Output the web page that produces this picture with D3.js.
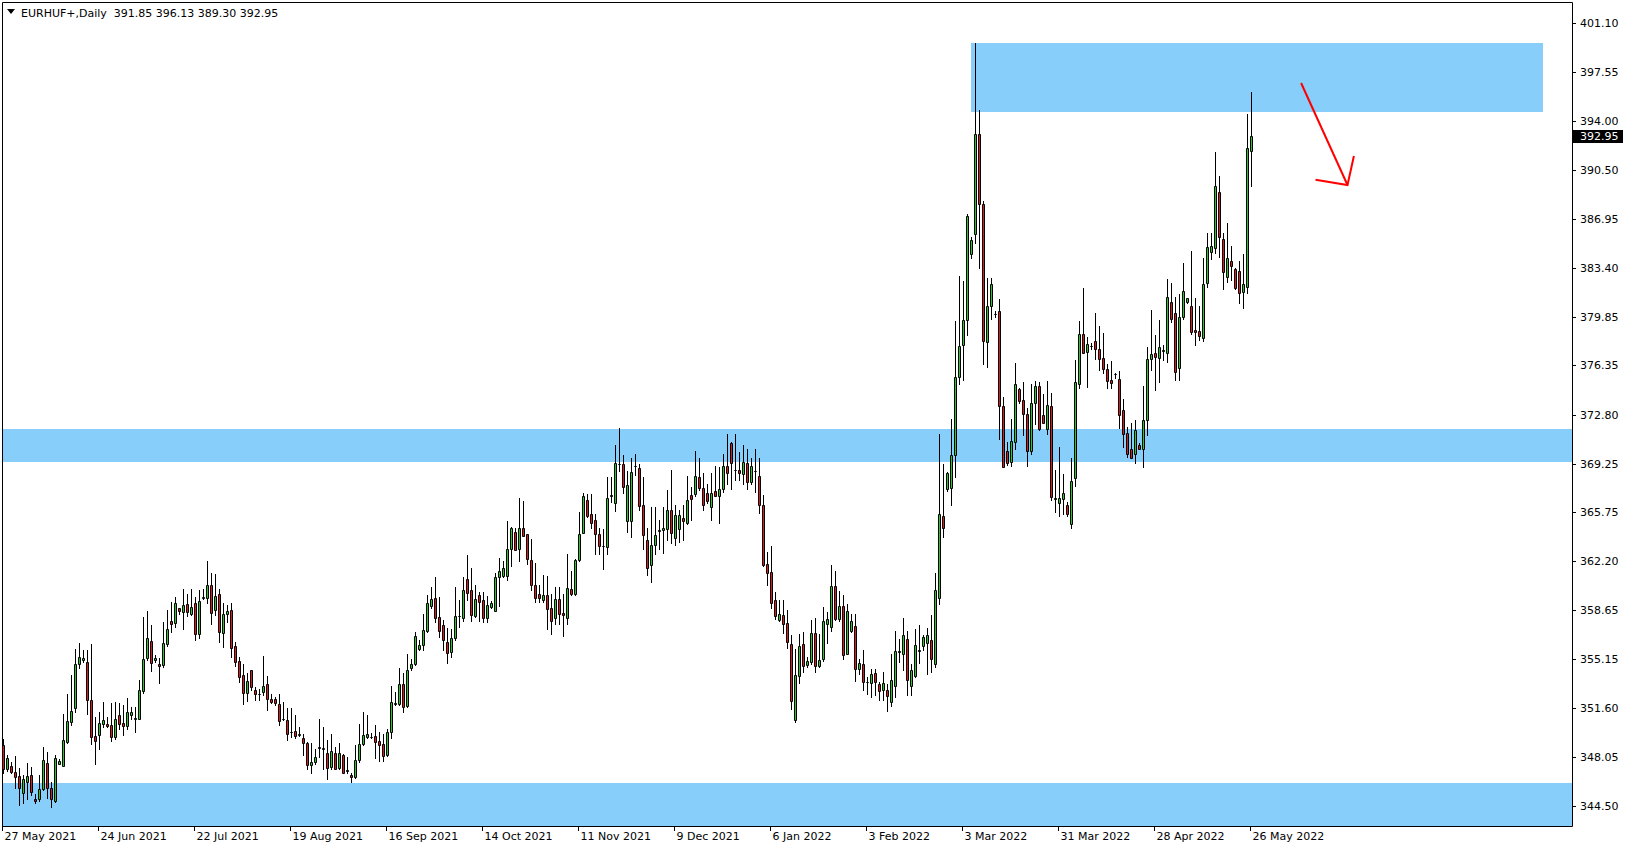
<!DOCTYPE html>
<html>
<head>
<meta charset="utf-8">
<script src="https://cdn.jsdelivr.net/npm/d3@7"></script>
<style>
  html, body { margin: 0; padding: 0; background: #fff; }
  svg { display: block; }
  text { font-family: "DejaVu Sans", sans-serif; font-size: 11px; fill: #000; }
</style>
</head>
<body>
<svg width="1629" height="850"></svg>
<script>
// EURHUF+ daily candles, one row per bar: open, high, low, close
var bars = [
  [348.89,349.33,346.85,347.21],[347.14,348.17,347.04,348.00],[347.38,347.69,346.89,346.99],[346.94,348.10,345.83,346.60],
  [346.65,347.28,344.60,345.81],[345.47,346.73,344.75,346.44],[346.24,347.62,345.01,346.70],[346.73,347.33,345.33,345.52],
  [345.01,345.40,344.72,344.89],[345.01,346.73,344.87,345.76],[345.76,348.77,345.64,347.86],[347.64,348.41,345.06,345.83],
  [345.83,346.22,344.44,344.97],[344.87,348.17,344.80,348.00],[347.57,347.93,347.52,347.76],[347.40,351.18,347.40,349.26],
  [349.14,352.63,349.06,350.61],[350.58,353.96,350.34,351.40],[351.62,355.88,351.30,354.80],[354.77,356.29,354.44,355.30],
  [355.06,355.76,354.92,355.23],[354.90,355.81,351.14,352.15],[352.15,356.20,348.97,349.50],[349.55,350.94,347.52,349.21],
  [349.64,351.30,348.65,350.53],[350.41,352.03,350.22,350.75],[350.41,350.94,350.22,350.29],[350.36,351.91,349.18,349.50],
  [349.50,352.03,349.33,350.77],[351.06,351.91,350.10,350.46],[350.51,351.79,349.66,350.29],[350.29,352.34,350.10,351.28],
  [351.09,351.67,350.77,351.28],[350.82,351.67,349.86,350.87],[350.80,353.59,350.80,352.87],[352.82,358.17,352.68,355.11],
  [355.21,358.58,355.04,356.61],[356.41,357.57,354.24,354.87],[355.02,355.40,354.92,355.18],[354.73,355.21,353.40,354.65],
  [354.70,357.81,354.56,356.27],[356.24,358.70,356.05,357.33],[357.86,359.26,357.09,357.67],[357.74,359.62,357.45,359.14],
  [358.78,358.82,358.41,358.61],[358.53,360.15,357.28,359.06],[359.09,359.86,358.22,358.49],[358.41,360.15,358.29,358.85],
  [359.14,359.62,356.53,356.90],[356.90,360.10,356.68,359.31],[359.52,360.15,359.43,359.58],[359.57,362.20,359.14,360.46],
  [360.46,361.31,357.69,358.46],[358.66,361.26,358.29,359.67],[359.81,360.22,356.37,357.09],[356.97,359.14,356.00,358.37],
  [358.41,359.06,357.81,358.58],[358.66,359.14,355.28,355.93],[356.05,356.37,354.61,354.92],[354.97,355.28,353.47,353.84],
  [353.96,354.80,351.84,352.68],[352.70,354.12,352.08,353.52],[354.32,354.32,352.87,353.11],[352.87,353.11,352.15,352.56],
  [352.60,352.99,352.15,352.63],[352.75,355.33,352.51,353.16],[353.35,353.88,351.47,352.20],[352.27,352.63,351.91,352.03],
  [352.22,352.39,351.79,351.96],[351.86,352.56,350.39,350.65],[350.77,352.03,350.70,350.80],[350.75,351.55,349.26,349.74],
  [349.86,351.55,349.50,349.88],[349.91,351.06,349.42,349.57],[349.66,350.22,349.57,349.72],[349.38,349.74,348.17,349.06],
  [349.09,349.14,347.21,347.47],[347.47,349.02,346.85,347.71],[347.69,348.65,347.57,348.07],[348.72,350.82,348.05,348.77],
  [348.67,350.22,347.16,348.65],[348.36,349.26,346.44,347.28],[347.33,349.69,347.21,348.46],[348.34,348.77,347.14,347.14],
  [347.28,349.02,347.16,348.32],[348.17,348.24,346.85,346.85],[347.06,348.05,346.85,347.11],[346.77,346.85,346.24,346.60],
  [346.60,348.89,346.53,347.81],[347.81,350.41,347.69,348.97],[348.97,351.26,348.89,349.62],[349.50,351.06,349.45,349.69],
  [349.52,349.81,349.42,349.50],[349.55,350.34,347.98,349.14],[349.23,349.86,347.74,348.89],[348.97,349.74,347.76,348.12],
  [348.22,350.10,348.15,349.88],[349.86,353.16,349.38,352.03],[351.89,352.75,351.79,351.91],[351.86,354.44,351.79,353.35],
  [353.35,354.08,351.30,351.67],[351.74,355.47,351.67,354.32],[354.49,355.16,354.32,354.73],[354.73,357.09,354.68,356.78],
  [355.86,356.49,355.81,356.12],[356.17,358.37,355.76,357.21],[357.16,359.74,357.09,359.21],[358.97,360.34,358.82,359.45],
  [359.57,361.07,357.81,358.10],[358.15,359.62,356.73,357.16],[357.57,357.93,355.76,356.53],[356.32,357.40,354.87,355.57],
  [355.64,357.33,355.28,356.61],[356.61,360.34,356.53,358.27],[358.22,359.38,357.45,358.27],[358.10,361.07,357.88,360.10],
  [360.90,362.63,359.38,359.93],[360.10,361.67,357.88,358.34],[358.25,360.46,358.17,359.43],[359.74,359.98,357.86,359.26],
  [359.38,359.98,357.81,358.10],[358.10,359.67,357.81,359.02],[358.90,359.33,358.82,359.14],[358.61,361.31,358.61,361.02],
  [361.02,362.46,358.97,361.47],[361.16,362.22,361.07,361.67],[361.14,365.09,360.82,363.11],[363.11,364.68,361.84,364.56],
  [364.32,364.56,362.99,363.04],[363.11,366.78,362.22,364.56],[364.56,366.54,364.01,364.01],[364.15,364.15,361.98,362.32],
  [362.27,363.79,360.10,360.46],[360.46,362.10,359.26,359.57],[359.79,360.46,359.26,359.57],[359.38,361.19,359.26,359.74],
  [359.74,361.11,357.33,358.75],[358.78,359.86,356.90,357.88],[358.12,360.34,357.69,359.43],[359.43,360.34,357.69,358.41],
  [358.46,359.86,356.80,358.34],[358.12,362.70,357.69,360.29],[360.15,361.47,359.74,359.79],[359.79,362.32,359.74,362.27],
  [362.27,365.76,362.22,364.13],[364.27,367.09,364.20,366.90],[366.61,367.04,365.40,365.45],[365.64,367.02,364.61,364.99],
  [365.16,365.64,362.70,364.13],[364.13,364.56,362.70,363.31],[363.26,364.49,361.60,363.31],[363.19,368.27,362.75,366.73],
  [366.92,368.30,366.49,366.95],[366.37,370.58,365.84,369.26],[369.23,371.79,368.72,369.20],[369.19,369.86,367.09,367.57],
  [365.11,368.70,364.32,367.69],[365.11,369.62,363.92,368.63],[369.07,369.93,368.40,369.11],[368.92,369.21,365.93,366.20],
  [366.24,368.25,363.11,364.12],[363.76,364.56,361.23,361.71],[361.95,366.12,360.70,363.36],[363.36,366.12,362.75,364.08],
  [364.41,365.16,363.11,364.46],[364.44,366.12,362.82,364.61],[364.49,367.33,363.72,365.89],[365.89,368.77,363.48,364.20],
  [363.84,366.25,363.36,365.52],[364.49,365.89,363.60,365.52],[365.35,366.25,363.72,365.09],[364.99,368.34,364.92,366.61],
  [366.97,367.57,365.16,366.66],[367.04,370.15,366.90,368.34],[368.25,369.62,367.33,367.52],[367.52,368.54,365.93,366.29],
  [367.09,367.81,366.37,366.54],[366.08,368.58,365.16,367.16],[367.26,369.06,366.90,366.92],[366.92,369.01,364.97,367.38],
  [367.38,369.98,367.21,369.06],[369.06,371.38,367.81,368.54],[370.71,370.78,367.45,369.33],[368.78,371.38,368.05,368.82],
  [368.77,370.08,368.10,368.58],[368.48,370.58,367.74,369.35],[369.26,370.34,367.38,367.93],[367.93,369.69,367.74,369.11],
  [368.70,370.27,367.21,368.74],[368.39,369.62,365.69,366.24],[366.24,366.97,361.84,361.91],[361.98,362.87,360.46,361.31],
  [361.38,363.28,358.78,359.21],[359.38,359.98,358.05,358.25],[357.93,359.38,357.86,358.41],[358.33,359.37,357.01,357.68],
  [357.76,358.65,355.92,356.36],[356.24,356.89,351.49,352.09],[350.74,355.88,350.57,353.95],[353.90,356.96,353.39,356.09],
  [356.24,357.08,354.19,354.62],[354.72,355.27,354.55,355.01],[354.91,357.92,354.79,357.03],[357.03,358.12,354.19,354.62],
  [354.62,356.91,354.55,355.08],[355.13,358.89,354.96,357.85],[357.63,358.53,356.29,357.99],[357.44,361.90,357.13,360.38],
  [360.38,361.47,357.92,358.02],[358.02,360.04,357.88,358.94],[358.94,359.73,355.10,355.39],[355.51,359.08,355.47,358.57],
  [357.13,358.41,357.08,357.85],[357.49,358.41,353.51,354.43],[354.43,355.15,354.07,354.86],[354.74,355.76,352.91,353.47],
  [353.45,353.83,352.57,353.49],[353.42,354.43,352.38,354.02],[354.14,354.43,352.55,353.47],[353.35,353.47,352.19,352.81],
  [352.91,354.19,352.19,353.42],[352.91,353.35,351.37,352.45],[352.02,355.51,351.71,353.63],[353.18,357.13,352.38,355.73],
  [355.63,356.60,354.91,355.73],[355.49,358.09,354.31,356.89],[356.55,357.13,352.50,353.63],[353.20,354.79,352.50,354.31],
  [353.90,357.32,353.83,356.16],[355.70,357.56,354.84,355.75],[356.04,356.89,355.76,356.72],[356.29,357.39,354.02,356.89],
  [356.48,358.29,354.19,355.15],[354.79,361.35,354.55,360.14],[359.56,371.36,359.08,365.60],[365.45,369.21,363.91,364.56],
  [367.40,368.66,367.28,368.54],[367.52,372.47,366.29,369.84],[369.84,379.55,368.25,375.48],[375.53,382.80,375.04,377.74],
  [377.82,382.47,375.33,379.62],[379.62,387.29,378.54,387.14],[384.37,385.65,384.08,385.38],[385.82,399.63,385.17,393.05],
  [393.05,394.81,383.36,388.01],[388.01,388.23,376.42,378.13],[378.01,382.64,376.25,380.63],[380.63,382.64,379.67,382.23],
  [380.03,380.30,379.86,380.08],[380.27,381.14,371.04,373.43],[373.43,374.08,368.97,368.97],[370.15,370.83,369.14,369.26],
  [369.38,372.51,369.07,370.87],[370.83,376.49,370.27,375.04],[374.61,374.68,373.60,373.79],[373.84,375.12,371.31,372.83],
  [372.83,373.24,369.09,370.17],[370.17,375.04,369.93,373.60],[373.60,375.21,372.10,374.85],[374.85,375.16,371.67,371.74],
  [372.80,374.27,372.15,372.22],[371.72,375.21,371.38,373.48],[373.40,374.39,366.61,366.85],[366.80,368.78,365.72,366.66],
  [366.37,370.42,365.48,366.80],[366.66,368.49,365.64,367.16],[366.29,366.44,365.48,365.64],[364.85,369.62,364.63,367.98],
  [368.22,376.73,367.64,375.12],[374.97,379.55,374.73,378.61],[378.61,381.91,377.26,377.28],[377.33,378.37,374.80,377.93],
  [377.74,377.98,377.57,377.78],[378.13,380.15,376.80,377.50],[377.50,379.19,376.01,376.80],[376.92,378.66,375.77,376.06],
  [376.06,376.42,374.73,375.24],[375.28,376.66,374.73,375.09],[375.74,375.77,375.45,375.72],[375.36,375.93,371.84,372.80],
  [373.16,373.89,370.46,371.36],[371.43,371.90,369.74,369.98],[370.30,372.15,369.62,369.67],[369.98,372.39,369.26,371.67],
  [370.56,370.71,370.30,370.34],[370.34,374.85,368.97,372.39],[372.39,377.70,371.31,376.78],[376.78,380.35,376.01,377.17],
  [377.22,378.54,374.56,376.93],[376.86,379.63,375.16,377.65],[377.39,377.82,376.74,377.43],[377.22,382.57,376.62,381.27],
  [380.91,382.33,379.51,379.70],[380.11,381.31,375.29,375.84],[376.13,381.51,375.29,379.82],[379.82,383.77,379.70,381.75],
  [380.91,381.21,380.89,381.19],[380.64,384.62,378.62,378.78],[378.91,381.19,377.82,378.78],[378.83,380.64,378.18,378.50],
  [378.30,384.09,378.13,382.23],[382.28,385.89,381.99,384.88],[384.52,385.89,384.01,384.98],[384.81,391.80,384.45,389.32],
  [388.86,390.04,384.21,385.61],[385.46,385.89,381.85,383.12],[382.76,386.62,382.40,384.09],[383.89,384.98,382.52,383.56],
  [383.29,383.36,381.85,381.92],[383.17,383.89,380.83,381.60],[381.68,384.40,380.47,382.23],[381.99,394.52,381.56,392.04],
  [391.85,396.13,389.30,392.95]
];

var priceTicks = [401.10, 397.55, 394.00, 390.50, 386.95, 383.40, 379.85, 376.35, 372.80,
  369.25, 365.75, 362.20, 358.65, 355.15, 351.60, 348.05, 344.50];

var dateLabels = ["27 May 2021", "24 Jun 2021", "22 Jul 2021", "19 Aug 2021", "16 Sep 2021",
  "14 Oct 2021", "11 Nov 2021", "9 Dec 2021", "6 Jan 2022", "3 Feb 2022", "3 Mar 2022",
  "31 Mar 2022", "28 Apr 2022", "26 May 2022"];
var dateBars = [0, 24, 48, 72, 96, 120, 144, 168, 192, 216, 240, 264, 288, 312];

// supply / demand boxes: bar range (null = whole chart) and price band
var zones = [
  { from: 241.9, to: 384.9, hi: 399.67, lo: 394.69 },
  { from: null, to: null, hi: 371.74, lo: 369.38 },
  { from: null, to: null, hi: 346.17, lo: 342.0 }
];

// hand drawn arrow, in bar / price units
var arrowShaft = [[324.4, 396.76], [336, 389.39]];
var arrowHead = [[328, 389.77], [336, 389.39], [337.6, 391.49]];

var symbol = "EURHUF+,Daily";
var last = bars[bars.length - 1];

var svg = d3.select("svg"),
  plotL = 2,
  plotR = 1572,
  plotT = 2,
  plotB = 826;

var x = d3.scaleLinear().domain([0, 312]).range([3.5, 1251.5]);
var y = d3.scaleLinear().domain([344.50, 401.10]).range([806, 23]);

svg.append("rect").attr("width", 1629).attr("height", 850).attr("fill", "#fff");

svg.append("clipPath").attr("id", "plot")
  .append("rect")
  .attr("x", plotL).attr("y", plotT)
  .attr("width", plotR - plotL).attr("height", plotB - plotT);

var g = svg.append("g").attr("clip-path", "url(#plot)");

g.selectAll("rect.zone")
  .data(zones)
  .enter()
  .append("rect")
  .attr("class", "zone")
  .attr("x", function (d) { return d.from === null ? plotL : Math.round(x(d.from)); })
  .attr("width", function (d) {
    return d.from === null ? plotR - plotL : Math.round(x(d.to)) - Math.round(x(d.from));
  })
  .attr("y", function (d) { return Math.round(y(d.hi)); })
  .attr("height", function (d) { return Math.round(y(d.lo)) - Math.round(y(d.hi)); })
  .attr("fill", "#87cefa");

var candle = g.selectAll("g.candle")
  .data(bars)
  .enter()
  .append("g")
  .attr("class", "candle");

// wicks
candle.append("line")
  .attr("x1", function (d, i) { return x(i); })
  .attr("x2", function (d, i) { return x(i); })
  .attr("y1", function (d) { return Math.round(y(d[1])); })
  .attr("y2", function (d) { return Math.round(y(d[2])) + 1; })
  .attr("stroke", "#000")
  .attr("stroke-width", 1);

// bodies, drawn as paths so a doji still shows as a flat line
candle.append("path")
  .attr("d", function (d, i) {
    var cx = x(i),
      y0 = Math.round(y(Math.max(d[0], d[3]))) + 0.5,
      y1 = Math.round(y(Math.min(d[0], d[3]))) + 0.5;
    return "M" + (cx - 1) + "," + y0 + "H" + (cx + 1) + "V" + y1 + "H" + (cx - 1) + "Z";
  })
  .attr("fill", function (d) { return d[3] >= d[0] ? "#22cc22" : "#dd1a1a"; })
  .attr("stroke", "#000")
  .attr("stroke-width", 1);

var line = d3.line()
  .x(function (d) { return x(d[0]); })
  .y(function (d) { return y(d[1]); });

g.append("path").attr("d", line(arrowShaft))
  .attr("fill", "none").attr("stroke", "#ff0000").attr("stroke-width", 2);
g.append("path").attr("d", line(arrowHead))
  .attr("fill", "none").attr("stroke", "#ff0000").attr("stroke-width", 2)
  .attr("stroke-linejoin", "miter");

// frame
svg.append("path")
  .attr("d", "M" + (plotL + 0.5) + "," + (plotB + 0.5) + "V" + (plotT + 0.5) + "H" + (plotR + 0.5) + "V" + (plotB + 0.5) + "H" + (plotL + 0.5))
  .attr("fill", "none")
  .attr("stroke", "#000");

// price scale
var yAxis = svg.append("g");
yAxis.selectAll("line")
  .data(priceTicks)
  .enter()
  .append("line")
  .attr("x1", plotR).attr("x2", plotR + 4)
  .attr("y1", function (d) { return Math.round(y(d)) + 0.5; })
  .attr("y2", function (d) { return Math.round(y(d)) + 0.5; })
  .attr("stroke", "#000");
yAxis.selectAll("text")
  .data(priceTicks)
  .enter()
  .append("text")
  .attr("x", plotR + 8)
  .attr("y", function (d) { return y(d) + 4; })
  .text(function (d) { return d.toFixed(2); });

var cy = Math.round(y(last[3]));
svg.append("rect")
  .attr("x", plotR + 1).attr("y", cy - 6)
  .attr("width", 50).attr("height", 13)
  .attr("fill", "#000");
svg.append("text")
  .attr("x", plotR + 8).attr("y", cy + 4)
  .style("fill", "#fff")
  .text(last[3].toFixed(2));

// time scale
var xAxis = svg.append("g");
xAxis.selectAll("line")
  .data(dateBars)
  .enter()
  .append("line")
  .attr("x1", function (d) { return x(d) - 1; })
  .attr("x2", function (d) { return x(d) - 1; })
  .attr("y1", plotB).attr("y2", plotB + 5)
  .attr("stroke", "#000");
xAxis.selectAll("text")
  .data(dateBars)
  .enter()
  .append("text")
  .attr("x", function (d) { return x(d) + 1; })
  .attr("y", plotB + 14)
  .text(function (d, i) { return dateLabels[i]; });

// header
svg.append("path").attr("d", "M7,9H15L11,14Z").attr("fill", "#000");
svg.append("text")
  .attr("x", 21).attr("y", 17)
  .attr("xml:space", "preserve")
  .text(symbol + "  " + last.map(function (v) { return v.toFixed(2); }).join(" "));
</script>
</body>
</html>
